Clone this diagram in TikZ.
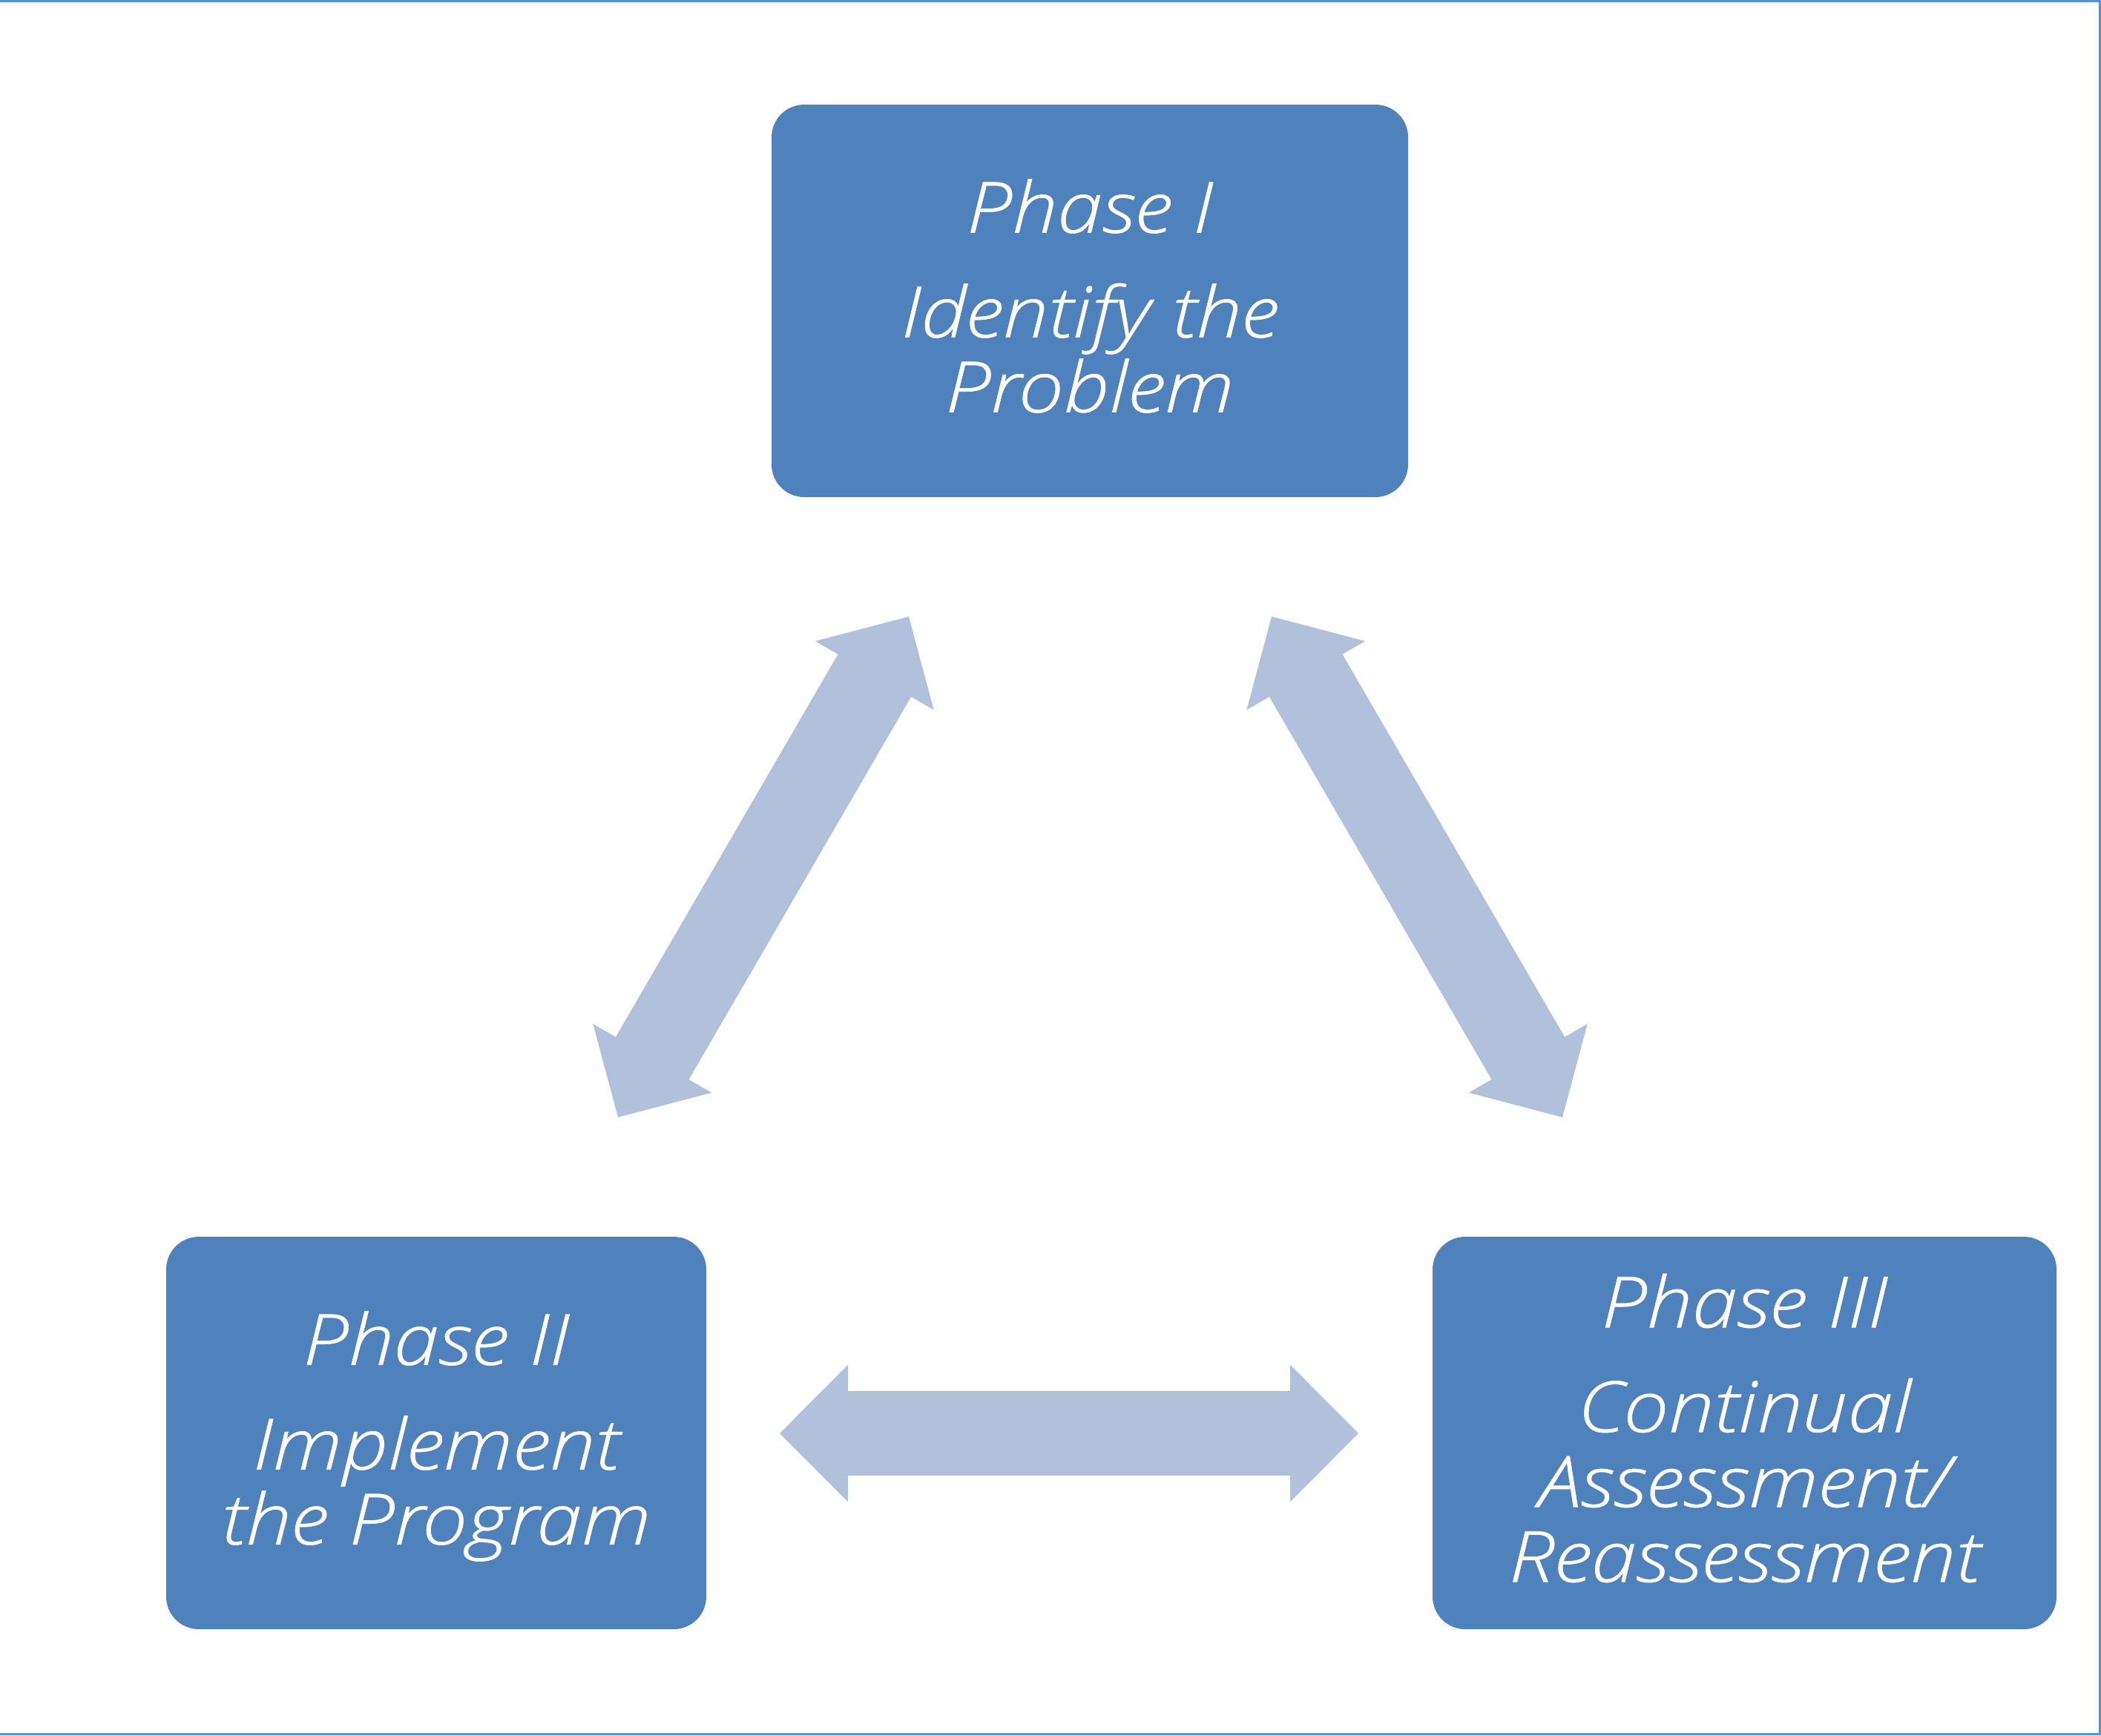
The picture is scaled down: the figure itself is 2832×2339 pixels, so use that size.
\documentclass[tikz,border=0pt]{standalone}
\usepackage{fontspec}
\setmainfont{Open Sans}
\newfontfamily\phaseff{Open Sans Light Italic}[FakeStretch=1.15,FakeBold=0.6]
\usetikzlibrary{arrows.meta}
\definecolor{boxblue}{RGB}{79,129,189}
\definecolor{arrowblue}{RGB}{178,193,219}
\definecolor{frameblue}{RGB}{91,146,215}
\newcommand\phasefont{\phaseff\fontsize{23.8}{25.25}\selectfont\lineskiplimit=-100pt\relax}
\begin{document}
\begin{tikzpicture}[x=0.25pt,y=-0.25pt,
  phasebox/.style={fill=boxblue, draw=none, rounded corners=11pt, inner sep=0pt,
    minimum height=132.25pt, text=white, align=center, font=\phasefont,
    text depth=3.5pt},
  bigarrow/.style={draw=arrowblue, line width=28.5pt,
    {Triangle[length=23pt,width=46pt,line width=1pt]}-{Triangle[length=23pt,width=46pt,line width=1pt]}}]
\useasboundingbox (0,0) rectangle (2832,2339);
\draw[frameblue, line width=0.8pt] (0,1.5) -- (2830.5,1.5) -- (2830.5,2337.5) -- (0,2337.5);

\node[phasebox, minimum width=214.5pt] (p1) at (1469,405.5)
  {Phase I\\[10pt]Identify the\\Problem};
\node[phasebox, minimum width=182pt] (p2) at (588,1931.5)
  {Phase II\\[10pt]Implement\\the Program};
\node[phasebox, minimum width=210.25pt] (p3) at (2351.5,1931.5)
  {Phase III\\[10pt]Continual\\Assessment/\\Reassessment};

\coordinate (a1t) at (1225,831);
\coordinate (a1b) at (833,1506);
\coordinate (a2t) at (1714,831);
\coordinate (a2b) at (2106,1506);
\coordinate (a3l) at (1051,1932);
\coordinate (a3r) at (1831,1932);
\draw[bigarrow] (a1b) -- (a1t);
\draw[bigarrow] (a2t) -- (a2b);
\draw[bigarrow] (a3l) -- (a3r);
\end{tikzpicture}
\end{document}
